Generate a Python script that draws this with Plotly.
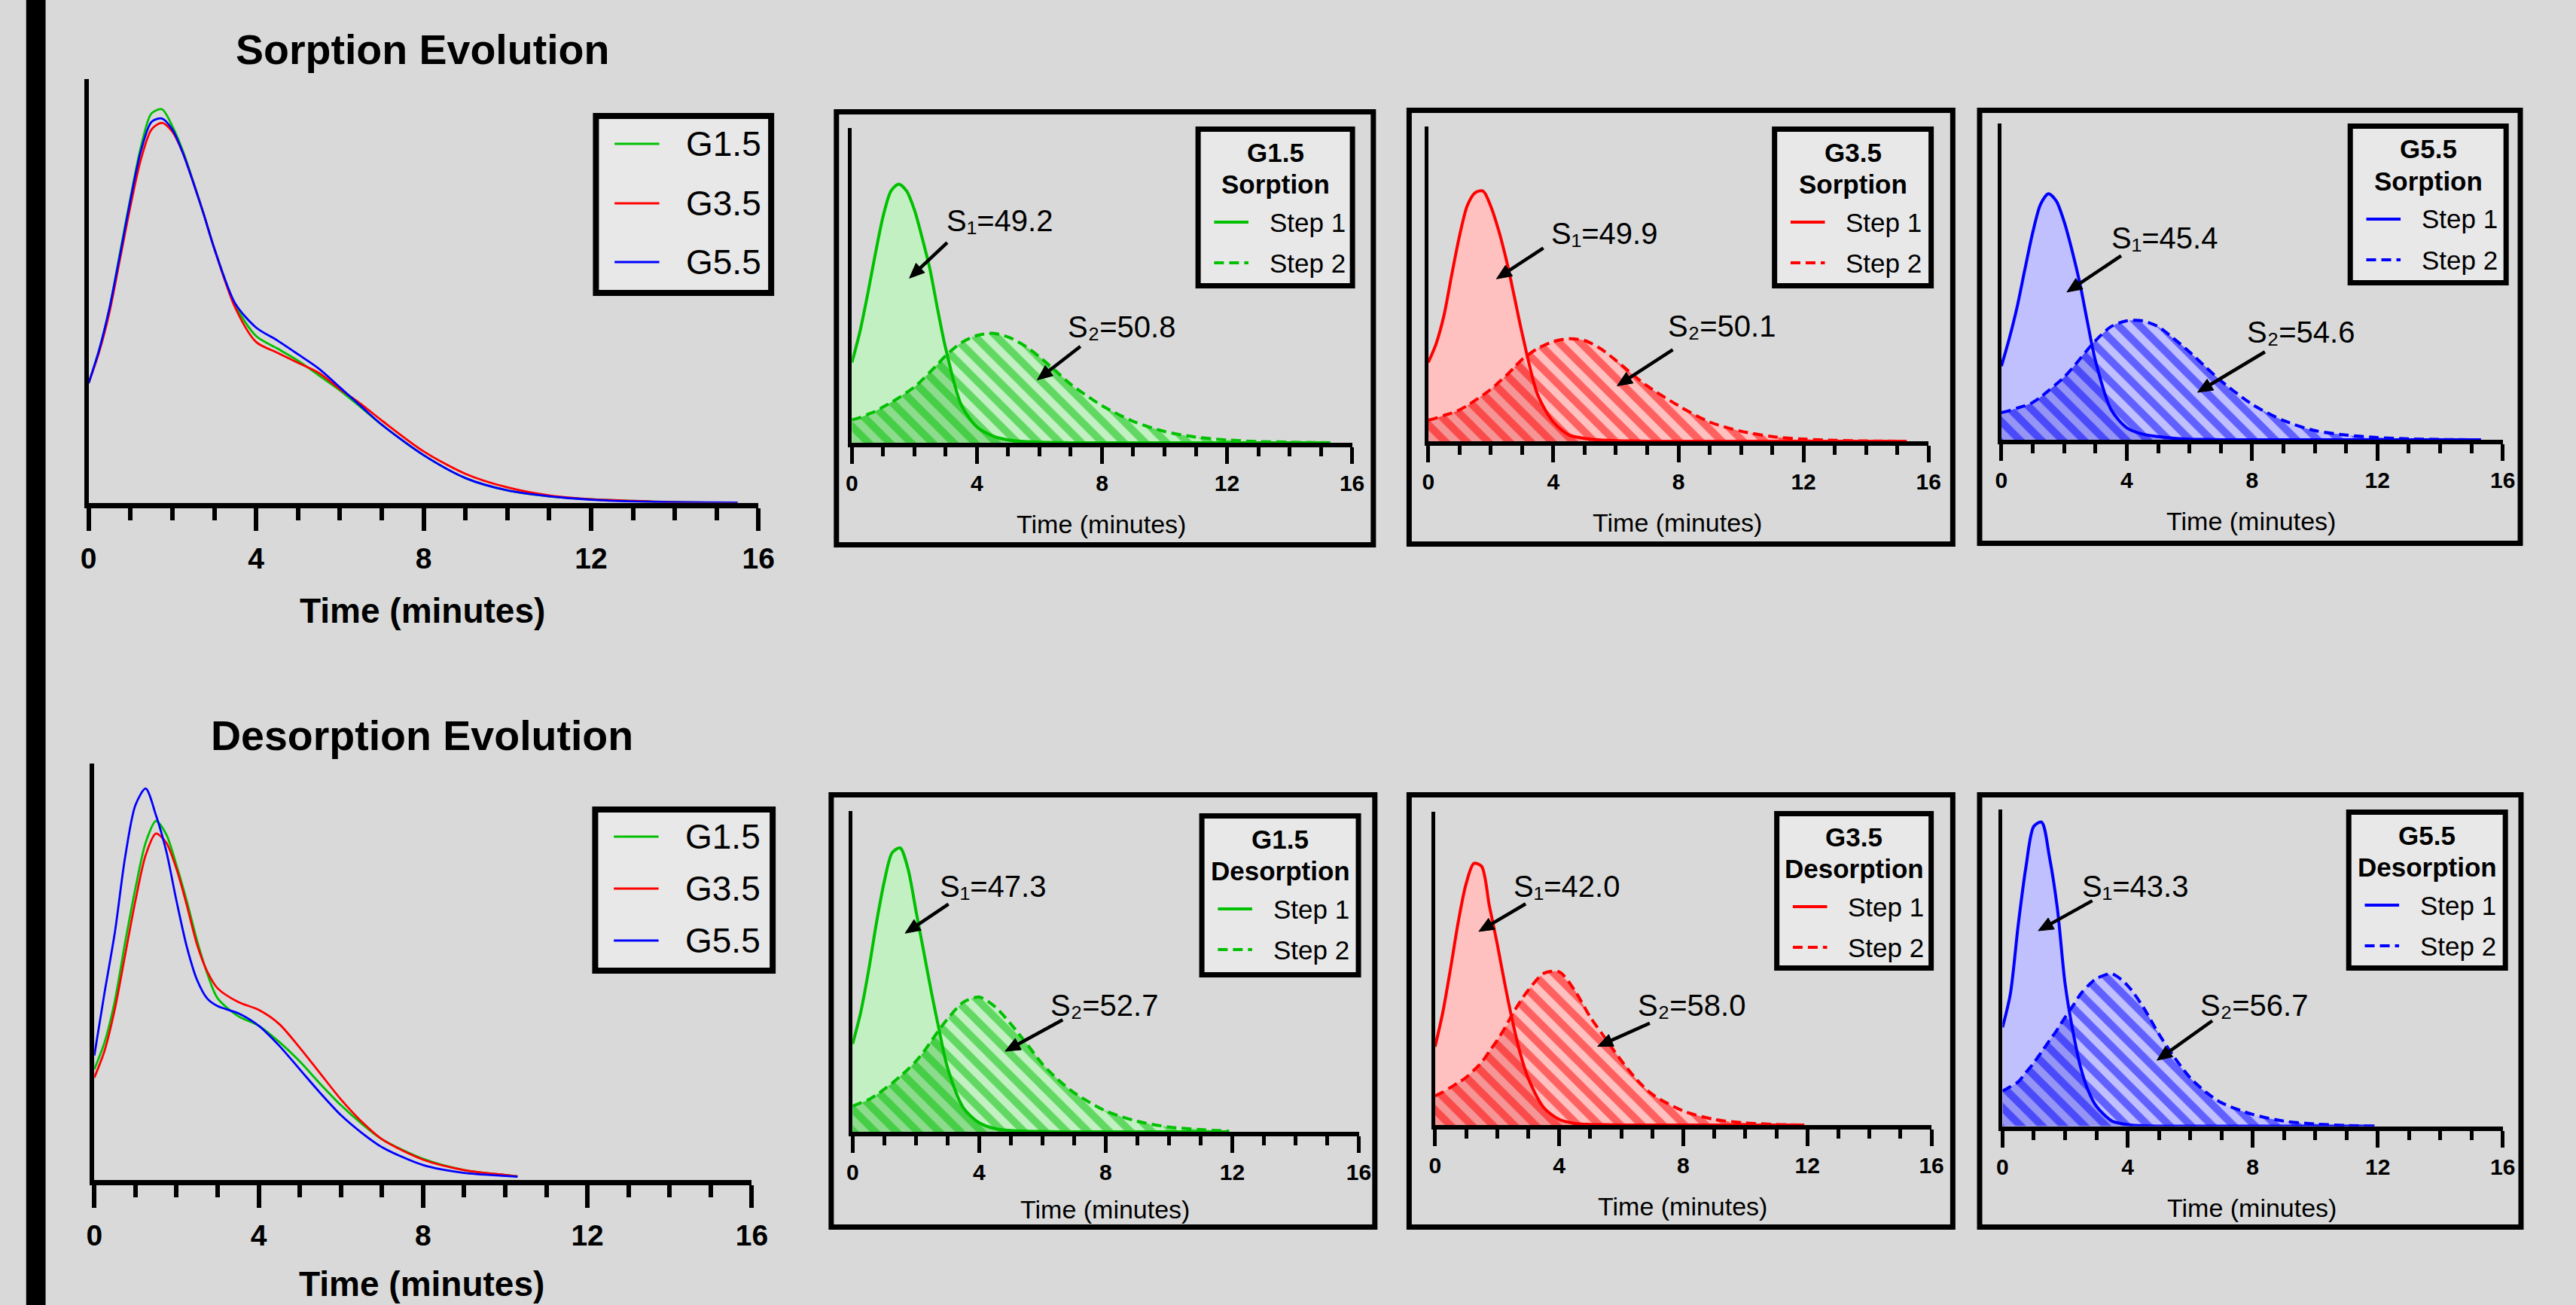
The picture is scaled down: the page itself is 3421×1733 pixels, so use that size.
import math
import plotly.graph_objects as go

W, H = 3421, 1733
FONT = "Liberation Sans, Arial, Helvetica, sans-serif"

# ---------------- data (normalised heights) ----------------
T_SORP = [0, 0.25, 0.5, 0.75, 1, 1.25, 1.5, 1.75, 2, 2.25, 2.5, 2.75, 3, 3.5, 4, 4.5, 5,
          5.5, 6, 6.5, 7, 8, 9, 10, 11, 12, 13, 14, 15.3]
T_SORP_TOTAL = [0, 0.25, 0.5, 0.75, 1, 1.25, 1.5, 1.75, 2, 2.25, 2.5, 2.75, 3, 3.5, 4, 4.5, 5,
                5.5, 6, 6.5, 7, 8, 9, 10, 11, 12, 13, 14, 15.5]
T_DESORP = [0, 0.25, 0.5, 0.75, 1, 1.25, 1.5, 1.75, 2, 2.25, 2.5, 2.75, 3, 3.5, 4, 4.5, 5,
            5.5, 6, 6.5, 7, 8, 9, 10, 11, 11.9]
T_DESORP_TOTAL = [0, 0.25, 0.5, 0.75, 1, 1.25, 1.5, 1.75, 2, 2.25, 2.5, 2.75, 3, 3.5, 4, 4.5, 5,
                  5.5, 6, 6.5, 7, 8, 9, 10, 10.3]

# Sorption evolution (whole curves)
SORP_G15 = [0.282, 0.36, 0.46, 0.59, 0.72, 0.84, 0.918, 0.928, 0.888, 0.83, 0.757, 0.68, 0.60, 0.466,
            0.393, 0.364, 0.335, 0.300, 0.265, 0.225, 0.184, 0.112, 0.058, 0.029, 0.015, 0.008, 0.004, 0.001, 0]
SORP_G35 = [0.282, 0.355, 0.45, 0.575, 0.70, 0.81, 0.88, 0.896, 0.875, 0.825, 0.755, 0.68, 0.60, 0.46,
            0.379, 0.354, 0.33, 0.306, 0.268, 0.233, 0.194, 0.121, 0.068, 0.036, 0.017, 0.008, 0.004, 0.001, 0]
SORP_G55 = [0.282, 0.36, 0.46, 0.585, 0.715, 0.83, 0.898, 0.906, 0.88, 0.825, 0.755, 0.68, 0.60, 0.47,
            0.413, 0.383, 0.35, 0.316, 0.272, 0.228, 0.184, 0.112, 0.058, 0.029, 0.015, 0.007, 0.003, 0.001, 0]

# Desorption evolution (whole curves)
DESORP_G15 = [0.265, 0.33, 0.43, 0.57, 0.70, 0.81, 0.862, 0.83, 0.756, 0.67, 0.575, 0.495, 0.436, 0.393,
              0.37, 0.331, 0.284, 0.23, 0.179, 0.135, 0.097, 0.05, 0.023, 0.011, 0.008]
DESORP_G35 = [0.245, 0.31, 0.41, 0.54, 0.67, 0.78, 0.832, 0.81, 0.747, 0.66, 0.565, 0.50, 0.46, 0.427,
              0.408, 0.374, 0.317, 0.255, 0.193, 0.14, 0.097, 0.048, 0.023, 0.011, 0.008]
DESORP_G55 = [0.298, 0.45, 0.594, 0.775, 0.90, 0.94, 0.876, 0.79, 0.67, 0.56, 0.48, 0.435, 0.417, 0.40,
              0.37, 0.322, 0.265, 0.208, 0.155, 0.113, 0.078, 0.035, 0.016, 0.009, 0.007]

# Sorption, two-step deconvolution
S_G15_STEP1 = [0.255, 0.35, 0.47, 0.60, 0.72, 0.80, 0.822, 0.80, 0.74, 0.65, 0.55, 0.42, 0.30, 0.12,
               0.05, 0.022, 0.009, 0.004, 0.002, 0.001, 0, 0, 0, 0, 0, 0, 0, 0, 0]
S_G15_STEP2 = [0.073, 0.08, 0.09, 0.10, 0.114, 0.128, 0.143, 0.16, 0.177, 0.20, 0.225, 0.25, 0.277, 0.318,
               0.341, 0.348, 0.336, 0.31, 0.273, 0.23, 0.186, 0.118, 0.068, 0.036, 0.018, 0.009, 0.004, 0.002, 0]
S_G35_STEP1 = [0.251, 0.31, 0.40, 0.53, 0.654, 0.75, 0.79, 0.795, 0.746, 0.67, 0.574, 0.46, 0.343, 0.147,
               0.061, 0.02, 0.009, 0.004, 0.002, 0.001, 0, 0, 0, 0, 0, 0, 0, 0, 0]
S_G35_STEP2 = [0.067, 0.074, 0.082, 0.09, 0.10, 0.114, 0.13, 0.147, 0.165, 0.187, 0.21, 0.235, 0.26, 0.295,
               0.317, 0.326, 0.32, 0.295, 0.257, 0.215, 0.176, 0.113, 0.061, 0.032, 0.015, 0.007, 0.003, 0.001, 0]
S_G55_STEP1 = [0.233, 0.32, 0.42, 0.54, 0.656, 0.745, 0.778, 0.755, 0.69, 0.60, 0.496, 0.37, 0.25, 0.095,
               0.038, 0.018, 0.01, 0.005, 0.002, 0.001, 0, 0, 0, 0, 0, 0, 0, 0, 0]
S_G55_STEP2 = [0.086, 0.092, 0.10, 0.108, 0.118, 0.135, 0.155, 0.176, 0.198, 0.225, 0.255, 0.285, 0.313, 0.358,
               0.376, 0.376, 0.358, 0.32, 0.278, 0.232, 0.187, 0.112, 0.061, 0.029, 0.015, 0.007, 0.003, 0.001, 0]

# Desorption, two-step deconvolution
D_G15_STEP1 = [0.274, 0.37, 0.50, 0.65, 0.78, 0.87, 0.885, 0.82, 0.69, 0.56, 0.43, 0.31, 0.20, 0.075,
               0.028, 0.01, 0.004, 0.002, 0.001, 0, 0, 0, 0, 0, 0, 0]
D_G15_STEP2 = [0.08, 0.09, 0.10, 0.115, 0.133, 0.152, 0.173, 0.195, 0.22, 0.25, 0.285, 0.32, 0.352, 0.404,
               0.42, 0.39, 0.336, 0.275, 0.211, 0.162, 0.122, 0.065, 0.033, 0.015, 0.007, 0.002]
D_G35_STEP1 = [0.25, 0.36, 0.50, 0.65, 0.77, 0.835, 0.826, 0.70, 0.58, 0.45, 0.33, 0.227, 0.15, 0.056,
               0.018, 0.005, 0.002, 0.001, 0, 0, 0, 0, 0, 0, 0, 0]
D_G35_STEP2 = [0.093, 0.105, 0.12, 0.135, 0.152, 0.175, 0.20, 0.235, 0.27, 0.31, 0.355, 0.395, 0.43, 0.484,
               0.489, 0.43, 0.345, 0.275, 0.206, 0.145, 0.098, 0.045, 0.018, 0.007, 0.002, 0]
D_G55_STEP1 = [0.312, 0.418, 0.635, 0.82, 0.947, 0.96, 0.85, 0.69, 0.45, 0.30, 0.185, 0.11, 0.063, 0.016,
               0.005, 0.001, 0, 0, 0, 0, 0, 0, 0, 0, 0, 0]
D_G55_STEP2 = [0.111, 0.125, 0.14, 0.17, 0.20, 0.235, 0.27, 0.305, 0.344, 0.38, 0.418, 0.445, 0.466, 0.481,
               0.444, 0.376, 0.291, 0.217, 0.153, 0.108, 0.074, 0.037, 0.016, 0.007, 0.002, 0]

SAMPLES = ["G1.5", "G3.5", "G5.5"]
S1_LABELS = ["49.2", "49.9", "45.4", "47.3", "42.0", "43.3"]
S2_LABELS = ["50.8", "50.1", "54.6", "52.7", "58.0", "56.7"]
X_TICKS = [0, 4, 8, 12, 16]

# ---------------- styles ----------------
GREEN, RED, BLUE = "#00c000", "#ff0000", "#0000ff"
COLORS = [GREEN, RED, BLUE]
LIGHT = {GREEN: "#c3f0c3", RED: "#ffc0c0", BLUE: "#c0c0ff"}
DARK = {GREEN: "#8ddc8d", RED: "#f59595", BLUE: "#9595f5"}
BG = "#d9d9d9"
LEG_BG = "#e8e8e8"
SUBSCRIPT = {"1": "\u2081", "2": "\u2082"}


def PX(p):
    return p / W


def PY(p):
    return 1 - p / H


fig = go.Figure()
layout = dict(width=W, height=H, margin=dict(l=0, r=0, t=0, b=0), paper_bgcolor=BG,
              plot_bgcolor="rgba(0,0,0,0)", showlegend=False)
shapes, annotations = [], []


def add_axes(i, x0, x16, base, top, xlw, ylw, ticklen, minorlen, tickw, tfs, standoff):
    sfx = "" if i == 1 else str(i)
    layout["xaxis" + sfx] = dict(
        domain=[PX(x0 + ylw / 2), PX(x16)], anchor="y" + sfx, range=[0, 16],
        showgrid=False, zeroline=False, showline=True, linecolor="black", linewidth=xlw,
        ticks="outside", tickmode="array", tickvals=X_TICKS, ticklen=ticklen, tickwidth=tickw,
        tickcolor="black",
        minor=dict(tickmode="linear", tick0=0, dtick=1, ticks="outside", ticklen=minorlen,
                   tickwidth=tickw, tickcolor="black", showgrid=False),
        tickfont=dict(family=FONT, size=tfs, color="black", weight="bold"),
        ticklabelstandoff=standoff, fixedrange=True)
    layout["yaxis" + sfx] = dict(
        domain=[PY(base - xlw / 2), PY(top)], anchor="x" + sfx, range=[0, 1],
        showgrid=False, zeroline=False, showline=True, linecolor="black", linewidth=ylw,
        ticks="", showticklabels=False, fixedrange=True)
    dl, dr = x0 + ylw / 2, x16
    bp, tp = base - xlw / 2, top
    return ("x" + sfx, "y" + sfx,
            lambda x: dl + x / 16.0 * (dr - dl),
            lambda y: bp - y * (bp - tp))


def text(x, y, s, size, bold=False, xanchor="center", xref="paper", yref="paper"):
    annotations.append(dict(x=x, y=y, xref=xref, yref=yref, text=s, showarrow=False,
                            xanchor=xanchor, yanchor="middle",
                            font=dict(family=FONT, size=size, color="black",
                                      weight="bold" if bold else "normal")))


def box(x0, y0, x1, y1, lw, fill=None):
    h = lw / 2
    shapes.append(dict(type="rect", xref="paper", yref="paper", x0=PX(x0 + h), x1=PX(x1 - h),
                       y0=PY(y0 + h), y1=PY(y1 - h), line=dict(color="black", width=lw),
                       fillcolor=fill if fill else "rgba(0,0,0,0)", layer="above"))


def legline(x0, x1, y, color, width, dash="solid"):
    shapes.append(dict(type="line", xref="paper", yref="paper", x0=PX(x0), x1=PX(x1),
                       y0=PY(y), y1=PY(y), line=dict(color=color, width=width, dash=dash),
                       layer="above"))


def arrow(tx, ty, hx, hy, width=4.5, head_len=20, head_half=8.5):
    """Arrow from tail (tx,ty) to tip (hx,hy), all in page pixels."""
    dx, dy = hx - tx, hy - ty
    n = math.hypot(dx, dy)
    ux, uy = dx / n, dy / n
    bx, by = hx - ux * head_len, hy - uy * head_len
    px_, py_ = -uy, ux
    shapes.append(dict(type="line", xref="paper", yref="paper",
                       x0=PX(tx), y0=PY(ty), x1=PX(bx + ux * 2), y1=PY(by + uy * 2),
                       line=dict(color="black", width=width), layer="above"))
    pts = [(hx, hy), (bx + px_ * head_half, by + py_ * head_half),
           (bx - px_ * head_half, by - py_ * head_half)]
    path = "M %.5f,%.5f L %.5f,%.5f L %.5f,%.5f Z" % tuple(
        v for (a, b) in pts for v in (PX(a), PY(b)))
    shapes.append(dict(type="path", xref="paper", yref="paper", path=path,
                       fillcolor="black", line=dict(color="black", width=1), layer="above"))


# ---------------- left overview panels ----------------
LEFT = [
    dict(ax=1, t=T_SORP_TOTAL, ys=[SORP_G15, SORP_G35, SORP_G55], title="Sorption Evolution",
         geo=dict(x0=105, x16=1006, base=671, top=104.5, title_y=66, xt_y=811,
                  leg=(784, 150, 1027, 393), rows=(191, 270, 348))),
    dict(ax=5, t=T_DESORP_TOTAL, ys=[DESORP_G15, DESORP_G35, DESORP_G55], title="Desorption Evolution",
         geo=dict(x0=112.6, x16=997, base=1570, top=1014, title_y=977, xt_y=1705,
                  leg=(783, 1071, 1029, 1293), rows=(1111, 1180, 1249))),
]

for p in LEFT:
    g = p["geo"]
    xr, yr, _, _ = add_axes(p["ax"], g["x0"], g["x16"], g["base"], g["top"], 7, 5.5, 30, 16, 6, 39, 4)
    for name, col, y in zip(SAMPLES, COLORS, p["ys"]):
        fig.add_trace(go.Scatter(x=p["t"], y=y, mode="lines", name=name, xaxis=xr, yaxis=yr,
                                 line=dict(color=col, width=2.8, shape="spline", smoothing=0.8)))
    cx = (g["x0"] + g["x16"]) / 2
    text(PX(cx), PY(g["title_y"]), p["title"], 55.5, bold=True)
    text(PX(cx), PY(g["xt_y"]), "Time (minutes)", 46, bold=True)
    lx0, ly0, lx1, ly1 = g["leg"]
    box(lx0, ly0, lx1, ly1, 8, LEG_BG)
    for name, col, ry in zip(SAMPLES, COLORS, g["rows"]):
        legline(lx0 + 29, lx0 + 89, ry, col, 3)
        text(PX(lx0 + 123), PY(ry), name, 46, xanchor="left")

# ---------------- right two-step panels ----------------
RIGHT = [
    dict(ax=2, t=T_SORP, s1=S_G15_STEP1, s2=S_G15_STEP2, color=GREEN, name="G1.5", kind="Sorption",
         geo=dict(x0=1129, x16=1802, base=591, top=170, frame=(1107, 145, 1834, 727),
                  leg=(1592, 168, 1806, 383), xt_y=696,
                  s1=((4.72, 0.705), (3.05, 0.636), (1.84, 0.523)),
                  s2=((8.63, 0.368), (7.31, 0.306), (5.93, 0.20)))),
    dict(ax=3, t=T_SORP, s1=S_G35_STEP1, s2=S_G35_STEP2, color=RED, name="G3.5", kind="Sorption",
         geo=dict(x0=1902, x16=2575, base=589, top=168, frame=(1875, 143, 2611, 726),
                  leg=(2365, 168, 2582, 383), xt_y=694,
                  s1=((5.63, 0.66), (3.68, 0.614), (2.18, 0.516)),
                  s2=((9.38, 0.366), (7.82, 0.291), (6.04, 0.176)))),
    dict(ax=4, t=T_SORP, s1=S_G55_STEP1, s2=S_G55_STEP2, color=BLUE, name="G5.5", kind="Sorption",
         geo=dict(x0=2670.5, x16=3345, base=587, top=164, frame=(2640, 143, 3372, 725),
                  leg=(3137, 164, 3353, 379), xt_y=692,
                  s1=((5.2, 0.639), (3.82, 0.582), (2.09, 0.467)),
                  s2=((9.56, 0.341), (8.41, 0.278), (6.26, 0.15)))),
    dict(ax=6, t=T_DESORP, s1=D_G15_STEP1, s2=D_G15_STEP2, color=GREEN, name="G1.5", kind="Desorption",
         geo=dict(x0=1130, x16=1811, base=1506, top=1077, frame=(1100, 1052, 1836, 1633),
                  leg=(1597, 1080, 1814, 1298), xt_y=1606,
                  s1=((4.42, 0.765), (3.03, 0.71), (1.66, 0.619)),
                  s2=((7.95, 0.394), (6.64, 0.349), (4.82, 0.251)))),
    dict(ax=7, t=T_DESORP, s1=D_G35_STEP1, s2=D_G35_STEP2, color=RED, name="G3.5", kind="Desorption",
         geo=dict(x0=1911, x16=2579, base=1497, top=1078, frame=(1875, 1052, 2611, 1633),
                  leg=(2368, 1077, 2582, 1289), xt_y=1602,
                  s1=((4.25, 0.762), (2.92, 0.706), (1.41, 0.618)),
                  s2=((8.28, 0.382), (6.92, 0.325), (5.24, 0.251)))),
    dict(ax=8, t=T_DESORP, s1=D_G55_STEP1, s2=D_G55_STEP2, color=BLUE, name="G5.5", kind="Desorption",
         geo=dict(x0=2672, x16=3345, base=1498.5, top=1075, frame=(2640, 1052, 3373, 1633),
                  leg=(3135, 1075, 3352, 1289), xt_y=1604,
                  s1=((4.25, 0.757), (2.87, 0.712), (1.14, 0.617)),
                  s2=((8.05, 0.381), (6.71, 0.333), (4.94, 0.208)))),
]

for idx, p in enumerate(RIGHT):
    g = p["geo"]
    col = p["color"]
    xr, yr, fx, fy = add_axes(p["ax"], g["x0"], g["x16"], g["base"], g["top"], 6, 4.5, 22, 12, 4.5, 30, 0)
    t, s1, s2 = p["t"], p["s1"], p["s2"]
    overlap = [min(a, b) for a, b in zip(s1, s2)]
    spl = dict(shape="spline", smoothing=0.8)
    # light fills
    fig.add_trace(go.Scatter(x=t, y=s1, mode="lines", fill="tozeroy", fillcolor=LIGHT[col],
                             line=dict(width=0, **spl), xaxis=xr, yaxis=yr, hoverinfo="skip"))
    fig.add_trace(go.Scatter(x=t, y=s2, mode="lines", fill="tozeroy", fillcolor=LIGHT[col],
                             line=dict(width=0, **spl), xaxis=xr, yaxis=yr, hoverinfo="skip"))
    fig.add_trace(go.Scatter(x=t, y=overlap, mode="lines", fill="tozeroy", fillcolor=DARK[col],
                             line=dict(width=0, **spl), xaxis=xr, yaxis=yr, hoverinfo="skip"))
    # hatched step 2
    fig.add_trace(go.Scatter(x=t, y=s2, mode="lines", name="Step 2", fill="tozeroy",
                             fillcolor="rgba(0,0,0,0)",
                             fillpattern=dict(shape="\\", fgcolor=col, bgcolor="rgba(0,0,0,0)",
                                              size=20, solidity=0.5),
                             line=dict(color=col, width=4, dash="13px,7px", **spl),
                             xaxis=xr, yaxis=yr))
    # step 1 line
    fig.add_trace(go.Scatter(x=t, y=s1, mode="lines", name="Step 1",
                             line=dict(color=col, width=4, **spl), xaxis=xr, yaxis=yr))

    # frame
    fx0, fy0, fx1, fy1 = g["frame"]
    box(fx0, fy0, fx1, fy1, 7)
    # axis title
    text(PX((g["x0"] + g["x16"]) / 2), PY(g["xt_y"]), "Time (minutes)", 34)
    # S labels + arrows
    for lab, (tp, tail, head), sub in ((S1_LABELS[idx], g["s1"], "1"), (S2_LABELS[idx], g["s2"], "2")):
        text(tp[0], tp[1], "S%s=%s" % (SUBSCRIPT[sub], lab), 40, xref=xr, yref=yr)
        arrow(fx(tail[0]), fy(tail[1]), fx(head[0]), fy(head[1]))
    # legend box
    lx0, ly0, lx1, ly1 = g["leg"]
    box(lx0, ly0, lx1, ly1, 7, LEG_BG)
    lcx = (lx0 + lx1) / 2
    text(PX(lcx), PY(ly0 + 34), p["name"], 35, bold=True)
    text(PX(lcx), PY(ly0 + 76), p["kind"], 35, bold=True)
    legline(lx0 + 25, lx0 + 71, ly0 + 127, col, 4)
    legline(lx0 + 25, lx0 + 71, ly0 + 181, col, 4, dash="13px,7px")
    text(PX(lx0 + 97), PY(ly0 + 127), "Step 1", 35, xanchor="left")
    text(PX(lx0 + 97), PY(ly0 + 181), "Step 2", 35, xanchor="left")

# left black bar
shapes.append(dict(type="rect", xref="paper", yref="paper", x0=PX(24), x1=PX(50), y0=0, y1=1,
                   line=dict(width=0), fillcolor="black", layer="above"))

layout["shapes"] = shapes
layout["annotations"] = annotations
fig.update_layout(**layout)
fig.write_html("out.html", config={"displayModeBar": False},
               post_script="document.body.style.margin='0';document.body.style.padding='0';"
                           "document.body.style.overflow='hidden';"
                           "document.body.style.background='%s';" % BG)
